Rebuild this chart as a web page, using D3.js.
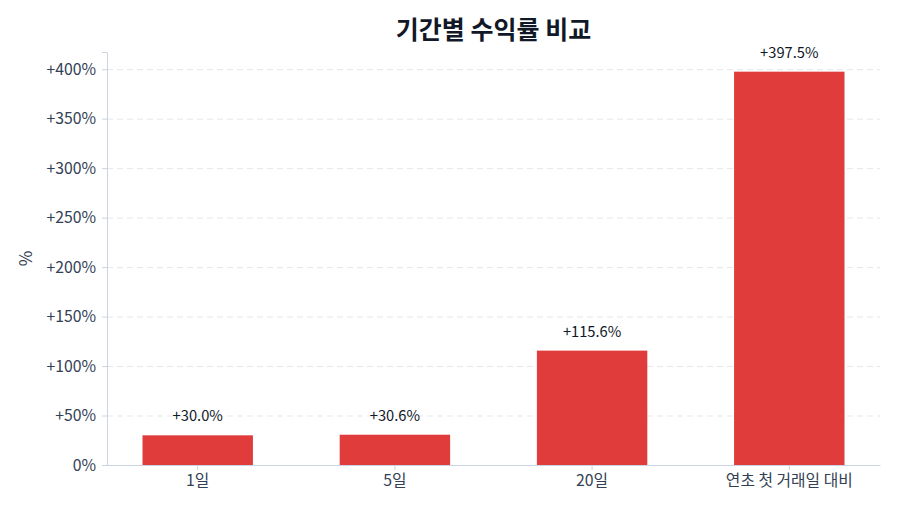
<!DOCTYPE html>
<html>
<head>
<meta charset="utf-8">
<script src="https://cdn.jsdelivr.net/npm/d3@7"></script>
<style>
  body { margin: 0; background: #fff; }
  svg { font-family: "Noto Sans CJK KR", "Noto Sans", sans-serif; }
  .grid line { stroke: #e5e7eb; stroke-dasharray: 6,4; }
  .grid .domain { display: none; }
  .axis text { fill: #334155; font-size: 15.8px; font-family: "Noto Sans CJK KR", "Noto Sans", sans-serif; }
  .axis line, .axis path { stroke: #cbd5e1; }
</style>
</head>
<body>
<svg id="chart" width="900" height="514"></svg>
<script>
"use strict";

const categories = ["1일", "5일", "20일", "연초 첫 거래일 대비"];
const returns = [30.0, 30.6, 115.6, 397.5];
const yTicks = [0, 50, 100, 150, 200, 250, 300, 350, 400];

const margin = {top: 52, right: 20, bottom: 49, left: 107};
const width = 900 - margin.left - margin.right;
const height = 514 - margin.top - margin.bottom;

const svg = d3.select("#chart");
const g = svg.append("g")
    .attr("transform", "translate(" + margin.left + "," + margin.top + ")");

// x: band scale over the categories
const xScale = d3.scaleBand()
    .domain(categories)
    .range([0, width])
    .paddingInner(0.44)
    .paddingOuter(0.18);

// y: percent, a little headroom above the biggest bar
const yScale = d3.scaleLinear()
    .domain([0, d3.max(returns) * 1.05])
    .range([height, 0]);

const fmt = v => (v === 0 ? "0%" : "+" + v + "%");

// dashed grid behind the bars
g.append("g")
    .attr("class", "grid")
    .call(d3.axisLeft(yScale).tickValues(yTicks.filter(d => d > 0)).tickSize(-width).tickFormat(""));

g.selectAll(".bar")
    .data(returns)
    .enter().append("rect")
    .attr("class", "bar")
    .attr("x", (d, i) => xScale(categories[i]))
    .attr("y", d => yScale(d))
    .attr("width", xScale.bandwidth())
    .attr("height", d => height - yScale(d))
    .attr("fill", "#e03c3c");

g.selectAll(".val")
    .data(returns)
    .enter().append("text")
    .attr("class", "val")
    .attr("x", (d, i) => xScale(categories[i]) + xScale.bandwidth() / 2)
    .attr("y", d => yScale(d) - 14)
    .attr("text-anchor", "middle")
    .style("font-size", "14.7px")
    .style("fill", "#111827")
    .text(d => "+" + d.toFixed(1) + "%");

// y axis
g.append("g")
    .attr("class", "axis y")
    .call(d3.axisLeft(yScale).tickValues(yTicks).tickFormat(fmt).tickSize(5).tickPadding(6));

// x axis
g.append("g")
    .attr("class", "axis x")
    .attr("transform", "translate(0," + height + ")")
    .call(d3.axisBottom(xScale).tickSize(5).tickSizeOuter(0).tickPadding(5));

g.selectAll(".axis .domain").attr("stroke", "#cbd5e1");

svg.append("text")
    .attr("x", margin.left + width / 2)
    .attr("y", 39)
    .attr("text-anchor", "middle")
    .style("font-size", "25px")
    .style("font-weight", "bold")
    .style("fill", "#111827")
    .text("기간별 수익률 비교");

svg.append("text")
    .attr("transform", "translate(32," + (margin.top + height / 2) + ") rotate(-90)")
    .attr("text-anchor", "middle")
    .style("font-size", "17px")
    .style("fill", "#334155")
    .text("%");
</script>
</body>
</html>
